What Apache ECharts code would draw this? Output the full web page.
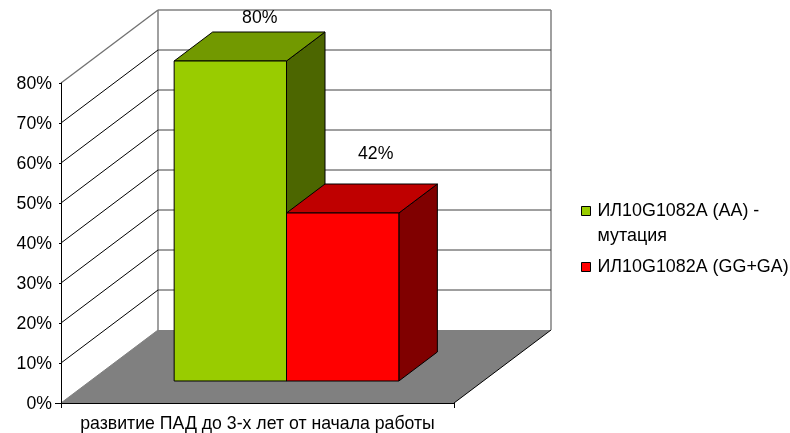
<!DOCTYPE html>
<html>
<head>
<meta charset="utf-8">
<style>html,body{margin:0;padding:0;background:#fff}#chart{width:790px;height:433px}</style>
<script src="https://cdn.jsdelivr.net/npm/echarts@6/dist/echarts.min.js"></script>
</head>
<body>
<div id="chart"></div>
<script>
// Chart content
const categories = ['развитие ПАД до 3-х лет от начала работы'];
const mutationName = 'ИЛ10G1082A (AA) -\nмутация';
const wildTypeName = 'ИЛ10G1082A (GG+GA)';
const mutationValues = [80];
const wildTypeValues = [42];
const yTicks = [0, 10, 20, 30, 40, 50, 60, 70, 80];

// Oblique projection of the chart box, in pixels
const WALL_DX = 97, WALL_DY = -73;
const FRONT_DX = 29, FRONT_DY = -22;
const DEPTH_DX = 38.5, DEPTH_DY = -29;
const BAR_SHARE = 0.2859;
const FONT = '"Liberation Sans", Arial, sans-serif';
const FONT_SIZE = 17.7;
const LEGEND_FONT_SIZE = 17.9;

function prismRenderer(slot, colors, labelShift) {
  return function (params, api) {
    const value = api.value(1);
    const band = api.size([1, 0])[0];
    const width = band * BAR_SHARE;
    const top = api.coord([api.value(0), value]);
    const base = api.coord([api.value(0), 0]);
    const x0 = top[0] + FRONT_DX + slot * width;
    const x1 = x0 + width;
    const yT = top[1] + FRONT_DY;
    const yB = base[1] + FRONT_DY;
    const edge = { stroke: '#000', lineWidth: 1, lineJoin: 'round' };
    return {
      type: 'group',
      children: [
        { type: 'polygon', shape: { points: [[x1, yT], [x1 + DEPTH_DX, yT + DEPTH_DY], [x1 + DEPTH_DX, yB + DEPTH_DY], [x1, yB]] },
          style: Object.assign({ fill: colors.side }, edge) },
        { type: 'polygon', shape: { points: [[x0, yT], [x0 + DEPTH_DX, yT + DEPTH_DY], [x1 + DEPTH_DX, yT + DEPTH_DY], [x1, yT]] },
          style: Object.assign({ fill: colors.top }, edge) },
        { type: 'rect', shape: { x: x0, y: yT, width: width, height: yB - yT },
          style: Object.assign({ fill: colors.front }, edge) },
        { type: 'text', x: (x0 + x1) / 2 + labelShift[0], y: yT + labelShift[1],
          style: { text: value + '%', fill: '#000', font: FONT_SIZE + 'px ' + FONT, align: 'center', verticalAlign: 'middle' } }
      ]
    };
  };
}

// Floor, back wall and the gridlines that fold across the side and back walls
function wallRenderer(params, api) {
  const grid = params.coordSys;
  const v = api.value(0);
  const y = api.coord([0, v])[1];
  const left = grid.x, right = grid.x + grid.width;
  const bx0 = left + WALL_DX, bx1 = right + WALL_DX, by = y + WALL_DY;
  const children = [];
  const isTop = v === yTicks[yTicks.length - 1];
  if (v === 0) {
    children.push({ type: 'polygon', shape: { points: [[left, y], [bx0, by], [bx1, by], [right, y]] }, style: { fill: '#808080' } });
    children.push({ type: 'line', shape: { x1: right, y1: y, x2: bx1, y2: by }, style: { stroke: '#000', lineWidth: 1 } });
    children.push({ type: 'line', shape: { x1: left, y1: y, x2: bx0, y2: by }, style: { stroke: '#808080', lineWidth: 1 } });
    children.push({ type: 'line', shape: { x1: left - 6, y1: y + 0.5, x2: left, y2: y + 0.5 }, style: { stroke: '#000', lineWidth: 1 } });
    const wallTop = grid.y + WALL_DY;
    children.push({ type: 'line', shape: { x1: bx0, y1: by, x2: bx0, y2: wallTop }, style: { stroke: '#808080', lineWidth: 1.5 } });
    children.push({ type: 'line', shape: { x1: bx1, y1: by, x2: bx1, y2: wallTop }, style: { stroke: '#808080', lineWidth: 1.5 } });
  } else {
    children.push({ type: 'line', shape: { x1: left, y1: y, x2: bx0, y2: by }, style: { stroke: isTop ? '#707070' : '#000', lineWidth: isTop ? 1.3 : 1 } });
    children.push({ type: 'line', shape: { x1: bx0, y1: by, x2: bx1, y2: by }, style: { stroke: isTop ? '#808080' : '#404040', lineWidth: isTop ? 1.5 : 1 } });
  }
  return { type: 'group', children: children };
}

const chart = echarts.init(document.getElementById('chart'), null, { renderer: 'canvas' });
chart.setOption({
  animation: false,
  backgroundColor: '#fff',
  grid: { left: 61, top: 83, width: 393, height: 320, outerBoundsMode: 'none' },
  legend: {
    orient: 'vertical',
    left: 581,
    top: 173.5,
    padding: 0,
    itemWidth: 13,
    itemHeight: 9,
    itemGap: 6,
    icon: 'path://M0 0H9V9H0Z',
    symbolKeepAspect: true,
    selectedMode: false,
    itemStyle: { borderColor: '#000', borderWidth: 1 },
    textStyle: { color: '#000', fontFamily: FONT, fontSize: LEGEND_FONT_SIZE, lineHeight: 25 },
    // A blank first line keeps the swatch beside the first line of a wrapped name
    formatter: name => (name.indexOf('\n') >= 0 ? ' \n' + name : name),
    data: [{ name: mutationName }, { name: wildTypeName }]
  },
  xAxis: {
    type: 'category',
    data: categories,
    z: 3,
    axisLine: { lineStyle: { color: '#000', width: 1 } },
    axisTick: { show: true, length: 5, alignWithLabel: false, lineStyle: { color: '#000' } },
    axisLabel: { color: '#000', fontFamily: FONT, fontSize: FONT_SIZE, margin: 12 },
    splitLine: { show: false }
  },
  yAxis: {
    type: 'value',
    min: 0,
    max: 80,
    interval: 10,
    z: 3,
    axisLine: { show: true, lineStyle: { color: '#000', width: 1 } },
    axisTick: { show: true, length: 2, lineStyle: { color: '#000' } },
    axisLabel: { color: '#000', fontFamily: FONT, fontSize: FONT_SIZE, margin: 9, verticalAlign: 'top', lineHeight: 3, formatter: '{value}%' },
    splitLine: { show: false }
  },
  series: [
    { type: 'custom', name: 'walls', z: 1, silent: true, data: yTicks.map(v => [v]), encode: { y: 0 }, renderItem: wallRenderer },
    { type: 'custom', name: mutationName, z: 4, itemStyle: { color: '#99CC00' },
      data: mutationValues.map((v, i) => [i, v]), encode: { x: 0, y: 1 },
      renderItem: prismRenderer(-1, { front: '#99CC00', top: '#729900', side: '#4C6600' }, [29.5, -43]) },
    { type: 'custom', name: wildTypeName, z: 5, itemStyle: { color: '#FF0000' },
      data: wildTypeValues.map((v, i) => [i, v]), encode: { x: 0, y: 1 },
      renderItem: prismRenderer(0, { front: '#FF0000', top: '#BF0000', side: '#800000' }, [33, -59]) }
  ]
});
</script>
</body>
</html>
